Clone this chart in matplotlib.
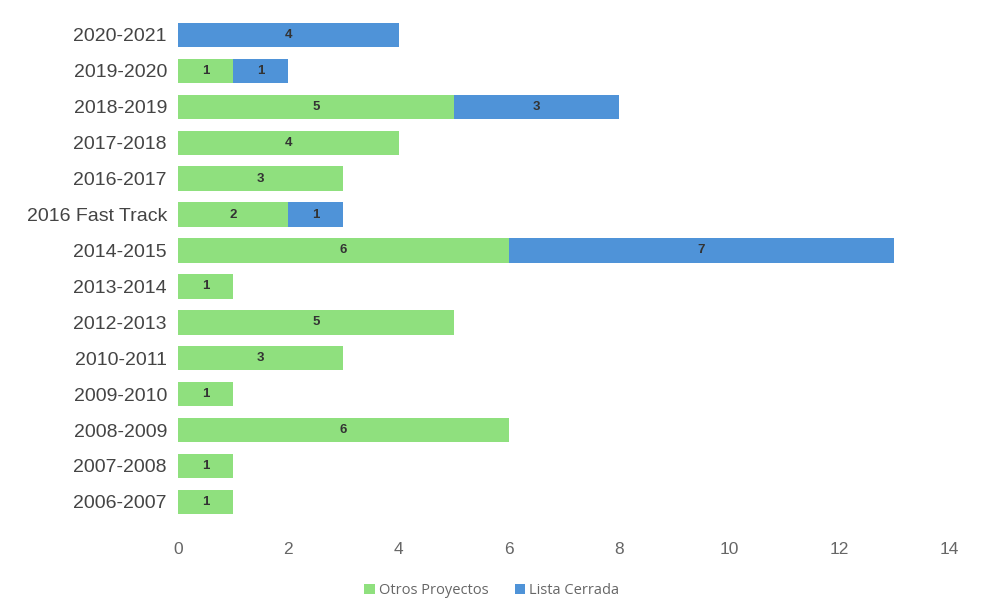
import matplotlib
matplotlib.use("Agg")
import matplotlib.pyplot as plt
import numpy as np

categories = ["2006-2007", "2007-2008", "2008-2009", "2009-2010", "2010-2011",
              "2012-2013", "2013-2014", "2014-2015", "2016 Fast Track",
              "2016-2017", "2017-2018", "2018-2019", "2019-2020", "2020-2021"]
otros = [1, 1, 6, 1, 3, 5, 1, 6, 2, 3, 4, 5, 1, 0]
lista = [0, 0, 0, 0, 0, 0, 0, 7, 1, 0, 0, 3, 1, 4]
xticks = [0, 2, 4, 6, 8, 10, 12, 14]

green = "#8fe07e"
blue = "#4f93d8"

fig = plt.figure(figsize=(9.84, 6.08), dpi=100)
ax = fig.add_axes([0.181, 0.145, 0.784, 0.827])

y = np.arange(len(categories))
h = 0.68
b1 = ax.barh(y, otros, height=h, color=green, label="Otros Proyectos")
b2 = ax.barh(y, lista, left=otros, height=h, color=blue, label="Lista Cerrada")

for vals, lefts in ((otros, [0] * len(otros)), (lista, otros)):
    for yi, v, l in zip(y, vals, lefts):
        if v > 0:
            ax.text(l + v / 2, yi, str(v), ha="center", va="center",
                    fontsize=9.5, fontweight="bold", color="#333333",
                    family="Liberation Sans")

ax.set_yticks(y)
ax.set_yticklabels(categories, fontsize=14, color="#444444",
                   family="Liberation Sans")
ax.set_xticks(xticks)
ax.set_xticklabels([str(t) for t in xticks], fontsize=12.5, color="#666666",
                   family="Liberation Sans")
ax.set_xlim(0, 14)
ax.set_ylim(-0.5, len(categories) - 0.5)
for s in ax.spines.values():
    s.set_visible(False)
ax.tick_params(length=0, pad=8)
ax.tick_params(axis="x", pad=16)

fig.legend(handles=[b1, b2], loc="lower center", bbox_to_anchor=(0.5, -0.005),
           ncol=2, frameon=False, handlelength=0.7,
           handleheight=0.7, handletextpad=0.3, columnspacing=1.8,
           labelcolor="#666666", prop={"family": "Open Sans", "size": 10.5})

fig.savefig("out.png", dpi=100, facecolor="white")
